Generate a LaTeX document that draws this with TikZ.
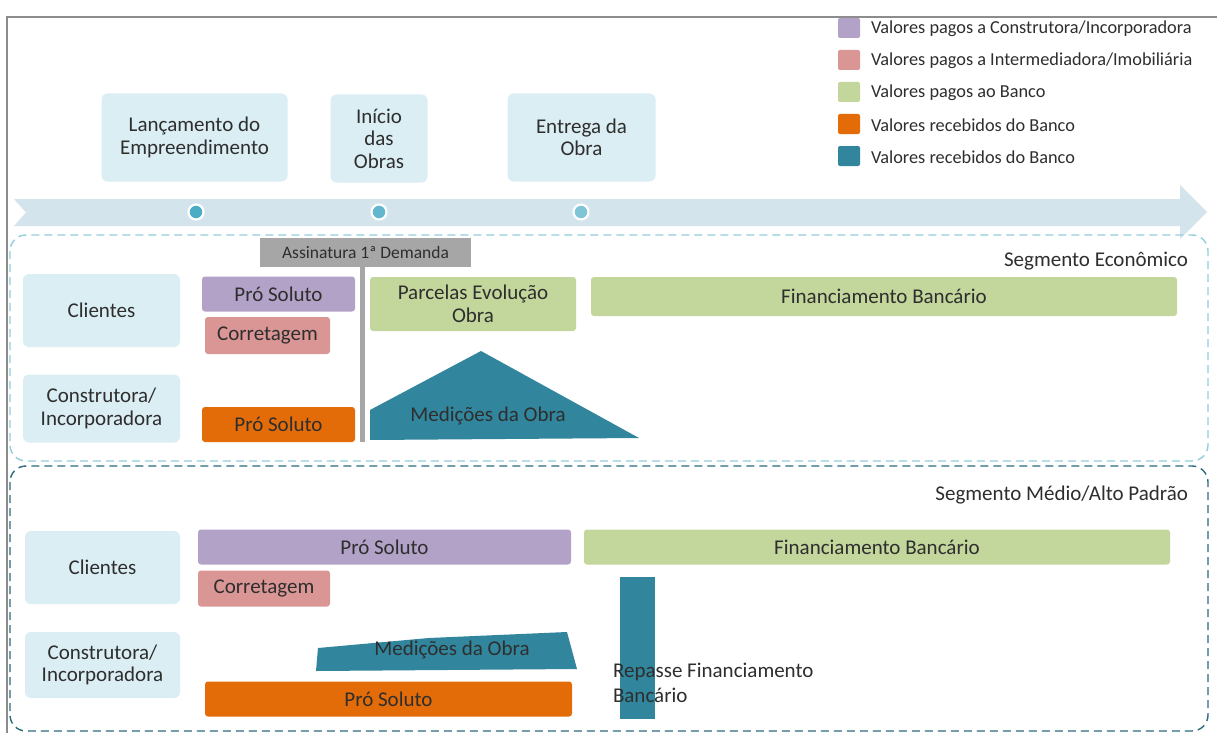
\documentclass[tikz,border=0pt]{standalone}
\usepackage{fontspec}
\setmainfont{Carlito}
\usetikzlibrary{calc}
\definecolor{txt}{HTML}{2E2E2E}
\definecolor{lbox}{HTML}{DBEEF4}
\definecolor{arrowc}{HTML}{D3E4EC}
\definecolor{cpurple}{HTML}{B2A2C7}
\definecolor{cpink}{HTML}{D99694}
\definecolor{cgreen}{HTML}{C3D69B}
\definecolor{corange}{HTML}{E36C09}
\definecolor{cteal}{HTML}{31859C}
\definecolor{cgray}{HTML}{A6A6A6}
\definecolor{dashA}{HTML}{92CDDC}
\definecolor{dashB}{HTML}{2C6B7D}
\definecolor{frame}{HTML}{8C8C8C}
\definecolor{dotA}{HTML}{4BACC6}
\definecolor{dotB}{HTML}{62B6CD}
\definecolor{dotC}{HTML}{80C4D7}
\tikzset{
  x=1pt, y=-1pt,
  every node/.style={text=txt, inner sep=0pt, outer sep=0pt},
  big/.style={font=\fontsize{21}{22.5}\selectfont, align=center},
  lbl/.style={font=\fontsize{18.3}{22}\selectfont},
  mile/.style={big, fill=lbox, rounded corners=6pt},
  actor/.style={big, fill=lbox, rounded corners=6pt},
  bar/.style={big, rounded corners=3pt},
  legsq/.style={minimum width=22pt, minimum height=20pt, rounded corners=2pt},
  dot/.style={circle, draw=white, line width=2.2pt, minimum size=15pt},
  segbox/.style={dash pattern=on 8pt off 5pt, line width=1.4pt, rounded corners=16pt},
}
\begin{document}
\begin{tikzpicture}
\useasboundingbox (0,0) rectangle (1217,733);
\fill[white] (0,0) rectangle (1217,733);
% frame
\draw[frame, line width=2.5pt] (7,733) -- (7,17) -- (1217,17);

% legend
\foreach \c/\t [count=\i] in {cpurple/{Valores pagos a Construtora/Incorporadora},
  cpink/{Valores pagos a Intermediadora/Imobiliária},
  cgreen/{Valores pagos ao Banco},
  corange/{Valores recebidos do Banco},
  cteal/{Valores recebidos do Banco}}{
  \node[legsq, fill=\c] (lsq\i) at (849,{28+32*(\i-1)}) {};
  \node[lbl, anchor=west] (ltx\i) at (871,{29+32*(\i-1)}) {\t};
}

% timeline arrow
\fill[arrowc] (14,199) -- (1180,199) -- (1180,185) -- (1207,212) -- (1180,239) -- (1180,226) -- (14,226) -- (26,212.5) -- cycle;
\node[dot, fill=dotA] (d1) at (196,212) {};
\node[dot, fill=dotB] (d2) at (379,212) {};
\node[dot, fill=dotC] (d3) at (581,212) {};

% milestones
\node[mile, minimum width=186pt, minimum height=88pt] (lanc) at (194.5,137.5) {Lançamento do\\Empreendimento};
\node[mile, minimum width=97pt, minimum height=88pt] (inic) at (379,138.5) {Início\\das\\Obras};
\node[mile, minimum width=148pt, minimum height=88pt] (entr) at (581.5,137.5) {Entrega da\\Obra};

% segment boxes
\draw[segbox, dashA] (10,235) rectangle (1208,461);
\draw[segbox, dashB] (10,466) rectangle (1208,731);
\node[big, anchor=east] (seg1) at (1188,261) {Segmento Econômico};
\node[big, anchor=east] (seg2) at (1188,495) {Segmento Médio/Alto Padrão};

% ---- Segmento Economico
\node[actor, minimum width=157pt, minimum height=73pt] (cli1) at (101.5,310.5) {Clientes};
\node[actor, minimum width=157pt, minimum height=68pt] (con1) at (101.5,408.5) {Construtora/\\Incorporadora};
\node[bar, fill=cpurple, minimum width=153pt, minimum height=35pt] (ps1) at (278.5,294) {Pró Soluto};
\node[bar, fill=cpink, minimum width=125pt, minimum height=37pt] (cor1) at (267.5,335.5) {Corretagem};
\node[bar, fill=corange, minimum width=153pt, minimum height=35pt] (pso1) at (278.5,424.5) {Pró Soluto};
\node[fill=cgray, minimum width=211pt, minimum height=29pt, font=\fontsize{17.5}{20}\selectfont] (ass) at (365.5,252.5) {Assinatura 1ª Demanda};
\coordinate (assend) at (362,442);
\draw[cgray, line width=5pt] (ass.south -| assend) -- (assend);
\node[bar, fill=cgreen, minimum width=206pt, minimum height=54pt] (par1) at (473,304) {Parcelas Evolução\\Obra};
\node[bar, fill=cgreen, minimum width=586pt, minimum height=39pt] (fin1) at (884,296.5) {Financiamento Bancário};
\fill[cteal] (370,410) -- (481,351) -- (639,438) -- (370,440) -- cycle;
\node[big] (med1) at (488,416) {Medições da Obra};

% ---- Segmento Medio/Alto
\node[actor, minimum width=155pt, minimum height=73pt] (cli2) at (102.5,567.5) {Clientes};
\node[actor, minimum width=155pt, minimum height=66pt] (con2) at (102.5,665) {Construtora/\\Incorporadora};
\node[bar, fill=cpurple, minimum width=373pt, minimum height=35pt] (ps2) at (384.5,547) {Pró Soluto};
\node[bar, fill=cpink, minimum width=132pt, minimum height=36pt] (cor2) at (264,588.5) {Corretagem};
\node[bar, fill=cgreen, minimum width=586pt, minimum height=35pt] (fin2) at (877,547) {Financiamento Bancário};
\fill[cteal] (318,648) -- (429,638) -- (567,632) -- (577,669) -- (316,671) -- cycle;
\node[big] (med2) at (452,650) {Medições da Obra};
\node[bar, fill=corange, minimum width=367pt, minimum height=35pt] (pso2) at (388.5,699) {Pró Soluto};
\node[fill=cteal, minimum width=35pt, minimum height=142pt] (rep) at (637.5,648) {};
\node[font=\fontsize{21}{25}\selectfont, align=left, anchor=north west] (reptx) at (613,663) {Repasse Financiamento\\Bancário};
\end{tikzpicture}
\end{document}
